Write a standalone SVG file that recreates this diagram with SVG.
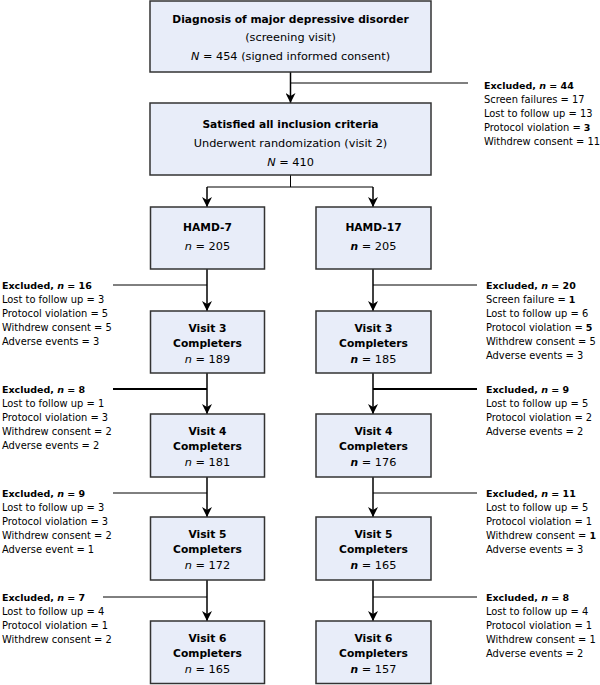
<svg xmlns="http://www.w3.org/2000/svg" width="600" height="685" viewBox="0 0 600 685">
<defs>
<marker id="arr" markerUnits="userSpaceOnUse" markerWidth="10" markerHeight="10" refX="10" refY="5" orient="auto">
<path d="M0,0 L10,5 L0,10 L3,5 z" fill="#000"/>
</marker>
<style>
text{font-family:"DejaVu Sans",Verdana,sans-serif;fill:#000}
.bx{font-size:11.3px;text-anchor:middle}
.bx .b,.bx.b{font-size:10.7px}
.ex{font-size:9.9px}
.ex.b,.ex .b{font-size:9.5px}
.b{font-weight:bold}
.i{font-style:italic}
.box{fill:#e8edf9;stroke:#333;stroke-width:1.5}
.ln{stroke:#000;stroke-width:1;fill:none}
.lnb{stroke:#000;stroke-width:2;fill:none}
.ar{stroke:#000;stroke-width:1.5;fill:none;marker-end:url(#arr)}
</style>
</defs>
<rect width="600" height="685" fill="#fff"/>

<g id="connectors">
<line class="ar" x1="290.5" y1="72" x2="290.5" y2="103"/>
<line class="ln" x1="290.5" y1="83" x2="468" y2="83"/>
<line class="ln" x1="290.5" y1="175" x2="290.5" y2="187"/>
<line class="ln" x1="207" y1="187" x2="373" y2="187"/>
<line class="ar" x1="207" y1="187" x2="207" y2="207"/>
<line class="ar" x1="373" y1="187" x2="373" y2="207"/>

<line class="ar" x1="207" y1="269" x2="207" y2="311"/>
<line class="ar" x1="373" y1="269" x2="373" y2="311"/>
<line class="ln" x1="113" y1="285" x2="207" y2="285"/>
<line class="ln" x1="373" y1="285" x2="477" y2="285"/>

<line class="ar" x1="207" y1="373" x2="207" y2="414"/>
<line class="ar" x1="373" y1="373" x2="373" y2="414"/>
<line class="lnb" x1="113" y1="389" x2="207" y2="389"/>
<line class="lnb" x1="373" y1="389" x2="477" y2="389"/>

<line class="ar" x1="207" y1="477" x2="207" y2="517"/>
<line class="ar" x1="373" y1="477" x2="373" y2="517"/>
<line class="ln" x1="113" y1="493" x2="207" y2="493"/>
<line class="ln" x1="373" y1="493" x2="477" y2="493"/>

<line class="ar" x1="207" y1="580" x2="207" y2="621"/>
<line class="ar" x1="373" y1="580" x2="373" y2="621"/>
<line class="ln" x1="103" y1="597" x2="207" y2="597"/>
<line class="ln" x1="373" y1="597" x2="477" y2="597"/>
</g>

<g id="diagnosis">
<rect class="box" x="150" y="1" width="281" height="71"/>
<text class="bx b" x="290.5" y="23">Diagnosis of major depressive disorder</text>
<text class="bx" x="290.5" y="41">(screening visit)</text>
<text class="bx" x="290.5" y="60"><tspan class="i">N</tspan> = 454 (signed informed consent)</text>
</g>

<g id="excluded-top">
<text class="ex b" x="484" y="89">Excluded, <tspan class="i">n</tspan> = 44</text>
<text class="ex" x="484" y="103">Screen failures = 17</text>
<text class="ex" x="484" y="117">Lost to follow up = 13</text>
<text class="ex" x="484" y="131">Protocol violation = <tspan class="b">3</tspan></text>
<text class="ex" x="484" y="145">Withdrew consent = 11</text>
</g>

<g id="randomization">
<rect class="box" x="150" y="103" width="281" height="72"/>
<text class="bx b" x="290.5" y="128">Satisfied all inclusion criteria</text>
<text class="bx" x="290.5" y="147">Underwent randomization (visit 2)</text>
<text class="bx" x="290.5" y="166"><tspan class="i">N</tspan> = 410</text>
</g>

<g id="hamd7">
<rect class="box" x="150.5" y="207" width="114" height="62"/>
<text class="bx b" x="207.5" y="231">HAMD-7</text>
<text class="bx" x="207.5" y="250"><tspan class="i">n</tspan> = 205</text>
</g>
<g id="hamd17">
<rect class="box" x="316" y="207" width="115" height="62"/>
<text class="bx b" x="373.5" y="231">HAMD-17</text>
<text class="bx" x="373.5" y="250"><tspan class="i b">n</tspan> = 205</text>
</g>

<g id="excl-l3">
<text class="ex b" x="2" y="289">Excluded, <tspan class="i">n</tspan> = 16</text>
<text class="ex" x="2" y="303">Lost to follow up = 3</text>
<text class="ex" x="2" y="317">Protocol violation = 5</text>
<text class="ex" x="2" y="331">Withdrew consent = 5</text>
<text class="ex" x="2" y="345">Adverse events = 3</text>
</g>
<g id="excl-r3">
<text class="ex b" x="486" y="289">Excluded, <tspan class="i">n</tspan> = 20</text>
<text class="ex" x="486" y="303">Screen failure = <tspan class="b">1</tspan></text>
<text class="ex" x="486" y="317">Lost to follow up = 6</text>
<text class="ex" x="486" y="331">Protocol violation = <tspan class="b">5</tspan></text>
<text class="ex" x="486" y="345">Withdrew consent = 5</text>
<text class="ex" x="486" y="359">Adverse events = 3</text>
</g>

<g id="v3-l">
<rect class="box" x="150.5" y="311" width="114" height="62"/>
<text class="bx b" x="207.5" y="332">Visit 3</text>
<text class="bx b" x="207.5" y="347">Completers</text>
<text class="bx" x="207.5" y="363"><tspan class="i">n</tspan> = 189</text>
</g>
<g id="v3-r">
<rect class="box" x="316" y="311" width="115" height="62"/>
<text class="bx b" x="373.5" y="332">Visit 3</text>
<text class="bx b" x="373.5" y="347">Completers</text>
<text class="bx" x="373.5" y="363"><tspan class="i b">n</tspan> = 185</text>
</g>

<g id="excl-l4">
<text class="ex b" x="2" y="393">Excluded, <tspan class="i">n</tspan> = 8</text>
<text class="ex" x="2" y="407">Lost to follow up = 1</text>
<text class="ex" x="2" y="421">Protocol violation = 3</text>
<text class="ex" x="2" y="435">Withdrew consent = 2</text>
<text class="ex" x="2" y="449">Adverse events = 2</text>
</g>
<g id="excl-r4">
<text class="ex b" x="486" y="393">Excluded, <tspan class="i">n</tspan> = 9</text>
<text class="ex" x="486" y="407">Lost to follow up = 5</text>
<text class="ex" x="486" y="421">Protocol violation = 2</text>
<text class="ex" x="486" y="435">Adverse events = 2</text>
</g>

<g id="v4-l">
<rect class="box" x="150.5" y="414" width="114" height="63"/>
<text class="bx b" x="207.5" y="435">Visit 4</text>
<text class="bx b" x="207.5" y="450">Completers</text>
<text class="bx" x="207.5" y="466"><tspan class="i">n</tspan> = 181</text>
</g>
<g id="v4-r">
<rect class="box" x="316" y="414" width="115" height="63"/>
<text class="bx b" x="373.5" y="435">Visit 4</text>
<text class="bx b" x="373.5" y="450">Completers</text>
<text class="bx" x="373.5" y="466"><tspan class="i b">n</tspan> = 176</text>
</g>

<g id="excl-l5">
<text class="ex b" x="2" y="497">Excluded, <tspan class="i">n</tspan> = 9</text>
<text class="ex" x="2" y="511">Lost to follow up = 3</text>
<text class="ex" x="2" y="525">Protocol violation = 3</text>
<text class="ex" x="2" y="539">Withdrew consent = 2</text>
<text class="ex" x="2" y="553">Adverse event = 1</text>
</g>
<g id="excl-r5">
<text class="ex b" x="486" y="497">Excluded, <tspan class="i">n</tspan> = 11</text>
<text class="ex" x="486" y="511">Lost to follow up = 5</text>
<text class="ex" x="486" y="525">Protocol violation = 1</text>
<text class="ex" x="486" y="539">Withdrew consent = <tspan class="b">1</tspan></text>
<text class="ex" x="486" y="553">Adverse events = 3</text>
</g>

<g id="v5-l">
<rect class="box" x="150.5" y="517" width="114" height="63"/>
<text class="bx b" x="207.5" y="538">Visit 5</text>
<text class="bx b" x="207.5" y="553">Completers</text>
<text class="bx" x="207.5" y="569"><tspan class="i">n</tspan> = 172</text>
</g>
<g id="v5-r">
<rect class="box" x="316" y="517" width="115" height="63"/>
<text class="bx b" x="373.5" y="538">Visit 5</text>
<text class="bx b" x="373.5" y="553">Completers</text>
<text class="bx" x="373.5" y="569"><tspan class="i b">n</tspan> = 165</text>
</g>

<g id="excl-l6">
<text class="ex b" x="2" y="601">Excluded, <tspan class="i">n</tspan> = 7</text>
<text class="ex" x="2" y="615">Lost to follow up = 4</text>
<text class="ex" x="2" y="629">Protocol violation = 1</text>
<text class="ex" x="2" y="643">Withdrew consent = 2</text>
</g>
<g id="excl-r6">
<text class="ex b" x="486" y="601">Excluded, <tspan class="i">n</tspan> = 8</text>
<text class="ex" x="486" y="615">Lost to follow up = 4</text>
<text class="ex" x="486" y="629">Protocol violation = 1</text>
<text class="ex" x="486" y="643">Withdrew consent = 1</text>
<text class="ex" x="486" y="657">Adverse events = 2</text>
</g>

<g id="v6-l">
<rect class="box" x="150.5" y="621" width="114" height="62.5"/>
<text class="bx b" x="207.5" y="642">Visit 6</text>
<text class="bx b" x="207.5" y="657">Completers</text>
<text class="bx" x="207.5" y="673"><tspan class="i">n</tspan> = 165</text>
</g>
<g id="v6-r">
<rect class="box" x="316" y="621" width="115" height="62.5"/>
<text class="bx b" x="373.5" y="642">Visit 6</text>
<text class="bx b" x="373.5" y="657">Completers</text>
<text class="bx" x="373.5" y="673"><tspan class="i b">n</tspan> = 157</text>
</g>
</svg>
